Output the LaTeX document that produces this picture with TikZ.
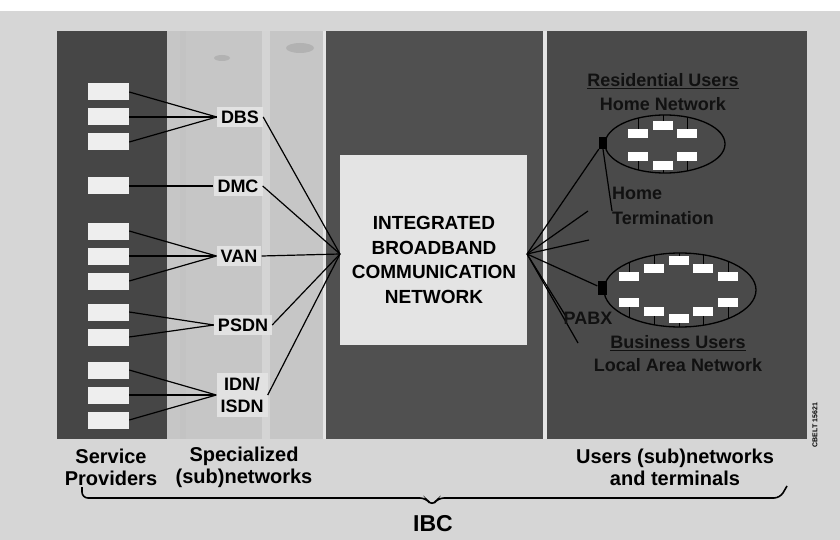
\documentclass[tikz,border=0pt]{standalone}
\usepackage{fontspec}
\setmainfont{Liberation Sans}
\usetikzlibrary{shapes.geometric}
\definecolor{bgc}{HTML}{D6D6D6}
\definecolor{darkp}{HTML}{464646}
\definecolor{midp}{HTML}{505050}
\definecolor{rightp}{HTML}{4A4A4A}
\definecolor{specp}{HTML}{C6C6C6}
\definecolor{boxbg}{HTML}{E4E4E4}
\definecolor{lblbg}{HTML}{E2E2E2}
\definecolor{spbox}{HTML}{EEEEEE}
\definecolor{rtext}{HTML}{111111}
\begin{document}
\begin{tikzpicture}[x=1pt,y=-1pt,
  lab/.style={font=\bfseries\fontsize{18}{22}\selectfont, inner sep=4pt, fill=lblbg},
  rlab/.style={font=\bfseries\fontsize{18}{22}\selectfont, inner sep=0pt, text=rtext},
  blab/.style={font=\bfseries\fontsize{20}{22}\selectfont, inner sep=0pt, align=center},
  sbox/.style={fill=spbox, minimum width=41pt, minimum height=17pt, inner sep=0pt},
  ubox/.style={fill=white, minimum width=20pt, minimum height=9pt, inner sep=0pt},
  term/.style={fill=black, inner sep=0pt},
  wire/.style={line width=1.2pt, black},
  stub/.style={line width=0.9pt, black}]
\useasboundingbox (0,0) rectangle (840,540);
% background
\fill[bgc] (0,0) rectangle (840,540);
\fill[white] (0,0) rectangle (840,11);
% panels
\fill[darkp] (57,31) rectangle (167,439);
\fill[specp] (167,31) rectangle (323,439);
\fill[black!24,opacity=0.5] (180,31) rectangle (186,439);
\fill[white,opacity=0.25] (262,31) rectangle (270,439);
\fill[black!35,opacity=0.6] (300,48) ellipse [x radius=14, y radius=5];
\fill[black!35,opacity=0.6] (222,58) ellipse [x radius=8, y radius=3];
\fill[white!90!black] (323,31) rectangle (326,439);
\fill[midp] (326,31) rectangle (543,439);
\fill[white!90!black] (543,31) rectangle (547,439);
\fill[rightp] (547,31) rectangle (807,439);
% central box
\node[fill=boxbg, minimum width=187pt, minimum height=189pt, inner sep=0pt] (ibcn) at (433.5,250) {};
\node[font=\bfseries\fontsize{19}{24.4}\selectfont, align=center, inner sep=0pt] (ibct) at (434,260)
  {INTEGRATED\\BROADBAND\\COMMUNICATION\\NETWORK};
\coordinate (lfan) at (340,254);
\coordinate (rfan) at (527,254);
% service provider boxes
\node[sbox] (s1) at (108.5,92) {};
\node[sbox] (s2) at (108.5,117) {};
\node[sbox] (s3) at (108.5,142) {};
\node[sbox] (s4) at (108.5,186) {};
\node[sbox] (s5) at (108.5,231) {};
\node[sbox] (s6) at (108.5,256) {};
\node[sbox] (s7) at (108.5,281) {};
\node[sbox] (s8) at (108.5,312) {};
\node[sbox] (s9) at (108.5,337) {};
\node[sbox] (s10) at (108.5,370) {};
\node[sbox] (s11) at (108.5,395) {};
\node[sbox] (s12) at (108.5,420) {};
% specialized network labels
\node[lab] (dbs) at (240,117) {DBS};
\node[lab] (dmc) at (238,186) {DMC};
\node[lab] (van) at (239,256) {VAN};
\node[lab] (psdn) at (243,325) {PSDN};
\node[lab, align=center] (idn) at (242,395) {IDN/\\ISDN};
% wires left
\foreach \b in {s1,s2,s3} \draw[wire] (\b.east) -- (dbs.west);
\draw[wire] (s4.east) -- (dmc.west);
\foreach \b in {s5,s6,s7} \draw[wire] (\b.east) -- (van.west);
\foreach \b in {s8,s9} \draw[wire] (\b.east) -- (psdn.west);
\foreach \b in {s10,s11,s12} \draw[wire] (\b.east) -- (idn.west);
\foreach \b in {dbs,dmc,van,psdn,idn} \draw[wire] (\b.east) -- (lfan);
% right side: home network
\draw[line width=1.3pt] (665,144) ellipse [x radius=60, y radius=29];
\begin{scope}
  \clip (665,144) ellipse [x radius=60, y radius=29];
  \foreach \x/\y in {663/126,638/134,687/134} \draw[stub] (\x,\y) -- (\x,100);
  \foreach \x/\y in {638/157,687/157,663/166} \draw[stub] (\x,\y) -- (\x,190);
\end{scope}
\node[ubox] (h1) at (663,126) {};
\node[ubox] (h2) at (638,134) {};
\node[ubox] (h3) at (687,134) {};
\node[ubox] (h4) at (638,157) {};
\node[ubox] (h5) at (687,157) {};
\node[ubox] (h6) at (663,166) {};
\node[term, minimum width=8pt, minimum height=12pt] (hterm) at (603,143) {};
% business LAN
\draw[line width=1.3pt] (680,290) ellipse [x radius=76, y radius=37];
\begin{scope}
  \clip (680,290) ellipse [x radius=76, y radius=37];
  \foreach \x/\y in {679/260,654/268,703/268,629/276,728/276} \draw[stub] (\x,\y) -- (\x,240);
  \foreach \x/\y in {629/302,728/302,654/311,703/311,679/318} \draw[stub] (\x,\y) -- (\x,340);
\end{scope}
\node[ubox] (b1) at (679,260) {};
\node[ubox] (b2) at (654,268) {};
\node[ubox] (b3) at (703,268) {};
\node[ubox] (b4) at (629,276) {};
\node[ubox] (b5) at (728,276) {};
\node[ubox] (b6) at (629,302) {};
\node[ubox] (b7) at (728,302) {};
\node[ubox] (b8) at (654,311) {};
\node[ubox] (b9) at (703,311) {};
\node[ubox] (b10) at (679,318) {};
\node[term, minimum width=9pt, minimum height=14pt] (pabx) at (602,288) {};
% right fan
\coordinate (f2) at (588,211);
\coordinate (f3) at (589,240);
\coordinate (f5) at (567,318);
\coordinate (f6) at (578,343);
\foreach \t in {hterm,f2,f3,pabx,f5,f6} \draw[wire] (rfan) -- (\t);
% right labels
\node[rlab] (resu) at (663,81) {\underline{Residential Users}};
\node[rlab] (homen) at (663,104) {Home Network};
\node[rlab, anchor=west] (home) at (612,193) {Home};
\node[rlab, anchor=west] (termi) at (612,218) {Termination};
\coordinate (tpt) at (612,211);
\draw[wire] (hterm.south) -- (tpt);
\node[rlab] (pabxl) at (588,318) {PABX};
\node[rlab] (busu) at (678,343) {\underline{Business Users}};
\node[rlab] (lan) at (678,365) {Local Area Network};
\node[font=\bfseries\fontsize{7}{8}\selectfont, rotate=90, inner sep=0pt] (code) at (815,425) {CBELT 15621};
% bottom labels
\node[blab] (sp) at (111,467) {Service\\Providers};
\node[blab] (spec) at (244,467) {Specialized\\(sub)networks};
\node[blab] (usr) at (675,467) {Users (sub)networks\\and terminals};
% brace
\coordinate (bl) at (82,487);
\coordinate (br) at (787,486);
\coordinate (btip) at (432,506);
\draw[line width=1.6pt, rounded corners=6pt] (bl) -- (82,498) -- (426,498) -- (btip) -- (438,498) -- (780,498) -- (br);
\node[font=\bfseries\fontsize{23}{26}\selectfont, inner sep=0pt] (ibc) at (433,524) {IBC};
\end{tikzpicture}
\end{document}
